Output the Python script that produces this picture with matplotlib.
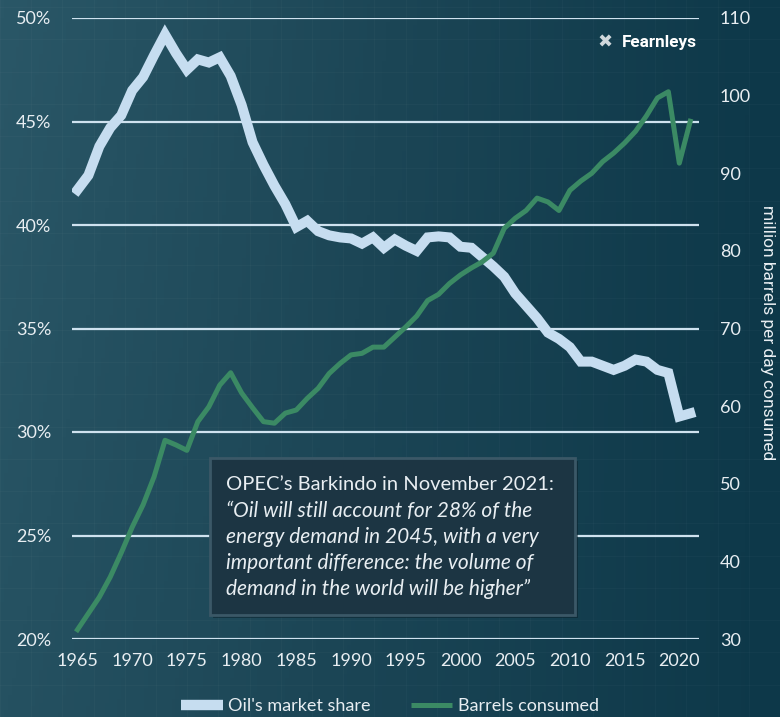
import matplotlib.pyplot as plt
import numpy as np
from matplotlib.lines import Line2D
from matplotlib.patches import Rectangle
from matplotlib.colors import LinearSegmentedColormap

# Datos
years = list(range(1965, 2022))

oil_share = [41.7, 42.4, 43.8, 44.7, 45.3, 46.5, 47.15, 48.2, 49.2, 48.3,
             47.5, 48.0, 47.85, 48.1, 47.2, 45.8, 44.0, 42.9, 41.9, 41.0,
             39.9, 40.2, 39.7, 39.5, 39.4, 39.35, 39.1, 39.4, 38.9, 39.3,
             39.0, 38.75, 39.4, 39.45, 39.4, 38.95, 38.9, 38.45, 38.0, 37.5,
             36.7, 36.1, 35.5, 34.8, 34.5, 34.1, 33.4, 33.4, 33.2, 33.0,
             33.2, 33.5, 33.4, 33.0, 32.85, 30.75, 30.9]

barrels = [31.2, 33.3, 35.4, 38.0, 41.1, 44.4, 47.3, 50.9, 55.6, 55.0,
           54.3, 58.0, 59.9, 62.7, 64.3, 61.7, 59.8, 58.0, 57.8, 59.1,
           59.5, 61.0, 62.3, 64.2, 65.5, 66.6, 66.8, 67.6, 67.6, 68.9,
           70.2, 71.6, 73.6, 74.4, 75.8, 76.9, 77.8, 78.6, 79.7, 82.9,
           84.2, 85.2, 86.8, 86.3, 85.2, 87.8, 89.0, 90.0, 91.5, 92.6,
           93.9, 95.4, 97.4, 99.7, 100.5, 91.3, 96.7]

x_ticks = list(range(1965, 2021, 5))
left_ticks = [20, 25, 30, 35, 40, 45, 50]
right_ticks = [30, 40, 50, 60, 70, 80, 90, 100, 110]

quote_title = "OPEC\u2019s Barkindo in November 2021:"
quote_lines = ["\u201cOil will still account for 28% of the",
               "energy demand in 2045, with a very",
               "important difference: the volume of",
               "demand in the world will be higher\u201d"]

# Colores
c_share = "#c6ddf0"
c_barrels = "#3b8a64"
c_grid = "#cfe2ef"
c_text = "#e8eef2"

plt.rcParams['font.family'] = ['Lato', 'DejaVu Sans']

fig = plt.figure(figsize=(7.8, 7.17), dpi=100)

# Fondo degradado
bg = fig.add_axes([0, 0, 1, 1], zorder=-10)
gx = np.linspace(0, 1, 200)
gy = np.linspace(0, 1, 200)
GX, GY = np.meshgrid(gx, gy)
grad = 0.85 * GX + 0.15 * (GY * (1 - GX))
cmap = LinearSegmentedColormap.from_list("bg", ["#2a5767", "#1c4656", "#0d3849"])
bg.imshow(grad, cmap=cmap, aspect='auto', extent=[0, 1, 0, 1], origin='upper')
for v in np.arange(0, 1, 0.04):
    bg.axvline(v, color='white', alpha=0.025, lw=1)
for v in np.arange(0, 1, 0.045):
    bg.axhline(v, color='white', alpha=0.025, lw=1)
bg.set_xlim(0, 1)
bg.set_ylim(0, 1)
bg.axis('off')

ax = fig.add_axes([72 / 780, 1 - 639 / 717, 627 / 780, 621 / 717])
ax.patch.set_alpha(0)
ax2 = ax.twinx()

ax.plot(years, oil_share, color=c_share, lw=7.2, solid_joinstyle='miter', zorder=3)
ax2.plot(years, barrels, color=c_barrels, lw=3.6, zorder=3)

ax.set_xlim(1964.5, 2021.8)
ax.set_ylim(20, 50)
ax2.set_ylim(30, 110)

ax.set_yticks(left_ticks)
ax.set_yticklabels([f"{t}%" for t in left_ticks])
ax2.set_yticks(right_ticks)
ax.set_xticks(x_ticks)

ax.grid(axis='y', color=c_grid, lw=1.6, zorder=1)
ax.set_axisbelow(True)

for a in (ax, ax2):
    for s in a.spines.values():
        s.set_visible(False)
    a.tick_params(length=0, colors=c_text, labelsize=13)
ax.tick_params(axis='y', pad=15)
ax.tick_params(axis='x', pad=10)
ax2.tick_params(axis='y', pad=15)

fig.text(767 / 780, 1 - 333 / 717, "million barrels per day consumed",
         rotation=270, ha='center', va='center', color=c_text, fontsize=12.5,
         family=['Roboto', 'DejaVu Sans'])

# Logo
fig.text(622 / 780, 1 - 43 / 717, "Fearnleys", ha='left', va='center',
         color='white', fontsize=12.3, fontweight='bold',
         family=['Roboto', 'DejaVu Sans'])
fig.text(605 / 780, 1 - 43 / 717, "\u2716", ha='center', va='center',
         color='#d0d8dc', fontsize=13, family=['DejaVu Sans'])

# Cuadro de texto
fig.patches.append(Rectangle((213 / 780, 1 - 618 / 717), 365 / 780, 157 / 717,
                             transform=fig.transFigure, facecolor='#0a1f29',
                             alpha=0.5, edgecolor='none', zorder=4))
fig.patches.append(Rectangle((210 / 780, 1 - 615 / 717), 365 / 780, 157 / 717,
                             transform=fig.transFigure, facecolor='#1c3543',
                             edgecolor='#3b5867', lw=2, zorder=5))
fig.text(226 / 780, 1 - 484 / 717, quote_title, ha='left', va='center',
         color=c_text, fontsize=14.5, zorder=6)
for i, line in enumerate(quote_lines):
    fig.text(226 / 780, 1 - (511 + 26 * i) / 717, line, ha='left', va='center',
             color=c_text, fontsize=15, fontstyle='italic', zorder=6)

# Leyenda
handles = [Line2D([], [], color=c_share, lw=7.5, solid_capstyle='butt'),
           Line2D([], [], color=c_barrels, lw=3.6, solid_capstyle='butt')]
leg = fig.legend(handles, ["Oil's market share", "Barrels consumed"],
                 loc='center', bbox_to_anchor=(0.5, 1 - 706 / 717), ncol=2,
                 frameon=False, fontsize=13, handlelength=2.3,
                 handletextpad=0.3, columnspacing=2.2)
for t in leg.get_texts():
    t.set_color(c_text)

fig.savefig("out.png", dpi=100)
